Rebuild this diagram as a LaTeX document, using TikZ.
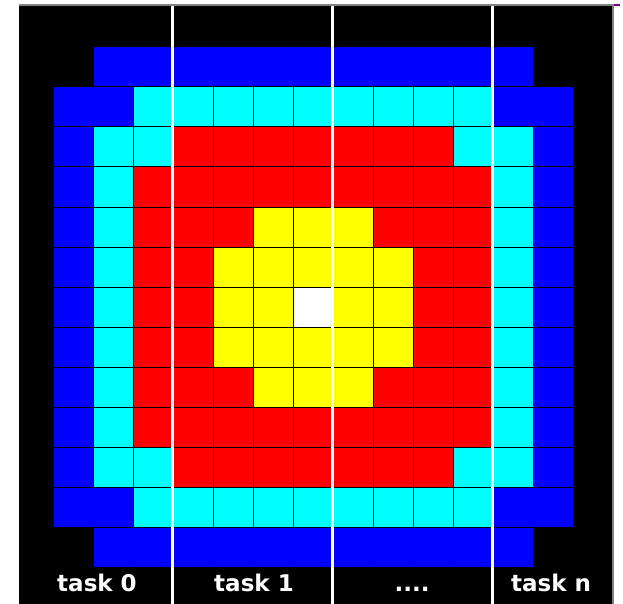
\documentclass[tikz,border=0pt]{standalone}
\usepackage{fontspec}
\newfontfamily\labelfont{DejaVu Sans}
\usepackage{tikz}
\usetikzlibrary{positioning}
\definecolor{cellB}{RGB}{0,0,255}
\definecolor{cellC}{RGB}{0,255,255}
\definecolor{cellR}{RGB}{255,0,0}
\definecolor{cellY}{RGB}{255,255,0}
\definecolor{cellW}{RGB}{255,255,255}
\definecolor{cellK}{RGB}{0,0,0}
\definecolor{framegray}{RGB}{130,130,130}
\tikzset{
  cellbox/.style={
    draw=black,
    line width=1pt
  },
  tasksep/.style={
    draw=white,
    line width=3pt
  },
  tasklabel/.style={
    text=white,
    font=\labelfont\bfseries\fontsize{23}{23}\selectfont,
    anchor=base,
    inner sep=0pt
  }
}

\begin{document}
\begin{tikzpicture}[x=1pt,y=-1pt]
  \useasboundingbox (0,0) rectangle (623,604);
  \fill[white] (0,0) rectangle (623,604);
  % black panel with its grey frame
  \fill[black] (19,6) rectangle (612,604);
  \draw[framegray,line width=2pt] (19,5) -- (613,5);
  \draw[framegray,line width=2pt] (612.5,4) -- (612.5,604);
  \fill[violet] (614,4) rectangle (620,6);
  % 13x13 ring pattern
  \foreach \row [count=\r from 0] in {
    {K,B,B,B,B,B,B,B,B,B,B,B,K},
    {B,B,C,C,C,C,C,C,C,C,C,B,B},
    {B,C,C,R,R,R,R,R,R,R,C,C,B},
    {B,C,R,R,R,R,R,R,R,R,R,C,B},
    {B,C,R,R,R,Y,Y,Y,R,R,R,C,B},
    {B,C,R,R,Y,Y,Y,Y,Y,R,R,C,B},
    {B,C,R,R,Y,Y,W,Y,Y,R,R,C,B},
    {B,C,R,R,Y,Y,Y,Y,Y,R,R,C,B},
    {B,C,R,R,R,Y,Y,Y,R,R,R,C,B},
    {B,C,R,R,R,R,R,R,R,R,R,C,B},
    {B,C,C,R,R,R,R,R,R,R,C,C,B},
    {B,B,C,C,C,C,C,C,C,C,C,B,B},
    {K,B,B,B,B,B,B,B,B,B,B,B,K}} {
    \foreach \col [count=\c from 0] in \row {
      \path[cellbox,fill=cell\col] (53+40*\c,47+40*\r) rectangle +(40,40);
    }
  }
  % task boundaries
  \foreach \sx [count=\i] in {172,332,492} {
    \coordinate (sep\i top) at (\sx,6);
    \coordinate (sep\i bot) at (\sx,604);
    \draw[tasksep] (sep\i top) -- (sep\i bot);
  }
  \node[tasklabel] (task0) at (97,591) {task 0};
  \node[tasklabel] (task1) at (254,591) {task 1};
  \node[tasklabel] (taskdots) at (412,591) {....};
  \node[tasklabel] (taskn) at (551,591) {task n};
\end{tikzpicture}
\end{document}
